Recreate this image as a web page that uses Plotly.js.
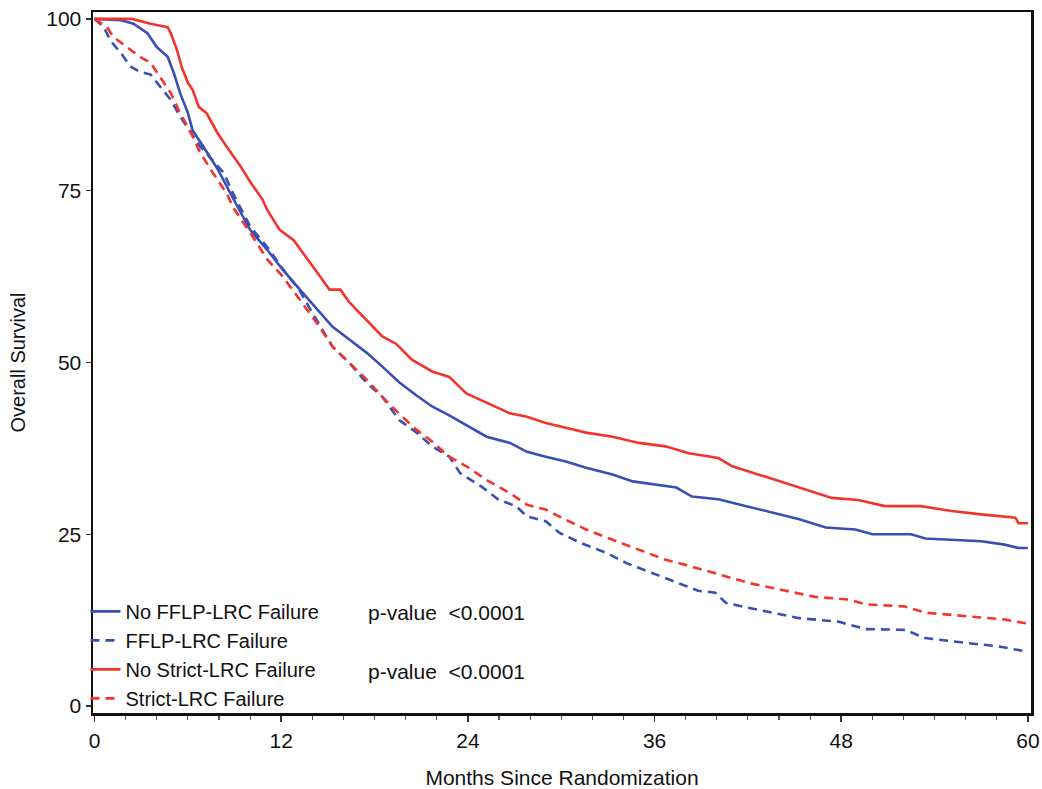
<!DOCTYPE html>
<html>
<head>
<meta charset="utf-8">
<script src="https://cdn.plot.ly/plotly-3.0.1.min.js"></script>
<style>html,body{margin:0;padding:0;background:#fff;}#chart{width:1042px;height:789px;}</style>
</head>
<body>
<div id="chart"></div>
<script>
// Series names
const seriesNames = ["No FFLP-LRC Failure", "FFLP-LRC Failure", "No Strict-LRC Failure", "Strict-LRC Failure"];

// No FFLP-LRC Failure (blue solid)
const noFflpMonths = [0, 1.7, 2.5, 3.4, 4.0, 4.7, 5.1, 5.5, 6.0, 6.3, 7.0, 7.9, 8.9, 10.0, 11.1, 12.1, 13.2, 14.3, 15.3, 16.4, 17.5, 18.5, 19.6, 20.7, 21.7, 22.8, 23.9, 25.2, 26.7, 27.8, 29.0, 30.3, 31.6, 33.3, 34.6, 36.3, 37.4, 38.4, 40.1, 41.9, 43.1, 45.3, 47.0, 48.9, 50.0, 52.5, 53.4, 57.0, 58.5, 59.4, 60];
const noFflpSurv = [100, 99.8, 99.3, 97.9, 95.9, 94.5, 92.1, 89.2, 86.3, 83.8, 81.4, 78.2, 73.9, 69.3, 66.4, 63.5, 60.6, 57.7, 55.2, 53.3, 51.4, 49.4, 47.1, 45.2, 43.6, 42.3, 40.9, 39.2, 38.3, 37.0, 36.3, 35.6, 34.7, 33.7, 32.7, 32.2, 31.8, 30.5, 30.1, 29.1, 28.4, 27.2, 26.0, 25.7, 25.0, 25.0, 24.4, 24.0, 23.5, 23.0, 23.0];

// FFLP-LRC Failure (blue dashed)
const fflpMonths = [0, 0.6, 1.0, 1.7, 2.3, 2.9, 3.6, 4.2, 4.9, 5.5, 6.2, 6.8, 7.4, 8.3, 8.9, 10.0, 11.1, 12.1, 13.2, 13.8, 15.3, 16.4, 17.5, 18.5, 19.6, 20.7, 21.7, 22.8, 23.5, 24.9, 26.0, 27.1, 27.8, 29.0, 29.9, 31.2, 32.9, 34.2, 35.8, 37.6, 38.8, 39.9, 40.6, 42.7, 45.3, 47.8, 49.6, 52.1, 53.4, 56.0, 58.1, 60];
const fflpSurv = [100, 98.8, 96.9, 95.0, 93.1, 92.3, 91.9, 90.2, 88.2, 85.8, 83.4, 81.4, 79.9, 77.6, 74.6, 69.8, 66.8, 63.6, 60.4, 58.0, 52.3, 49.9, 47.0, 45.0, 41.6, 39.8, 37.8, 36.3, 33.9, 31.9, 30.0, 29.1, 27.6, 26.9, 25.2, 23.8, 22.3, 20.8, 19.4, 17.9, 16.8, 16.5, 15.0, 14.0, 12.8, 12.3, 11.2, 11.1, 9.9, 9.2, 8.7, 7.9];

// No Strict-LRC Failure (red solid)
const noStrictMonths = [0, 2.4, 3.6, 4.7, 4.9, 5.3, 5.6, 6.0, 6.3, 6.7, 7.2, 7.9, 8.5, 9.4, 10.0, 10.8, 11.1, 11.9, 12.8, 13.7, 14.5, 15.1, 15.8, 16.4, 17.5, 18.5, 19.4, 20.4, 21.7, 22.8, 23.9, 25.2, 26.7, 27.8, 29.0, 30.3, 31.6, 33.3, 35.0, 36.7, 38.2, 40.1, 41.0, 43.1, 45.3, 47.4, 49.1, 50.8, 53.1, 55.1, 57.0, 59.2, 59.4, 60];
const noStrictSurv = [100, 100, 99.3, 98.8, 97.9, 95.5, 93.0, 90.7, 89.7, 87.2, 86.3, 83.4, 81.4, 78.5, 76.3, 73.7, 72.2, 69.3, 67.8, 64.9, 62.5, 60.6, 60.6, 58.7, 56.2, 53.8, 52.7, 50.4, 48.7, 47.9, 45.5, 44.1, 42.6, 42.1, 41.2, 40.5, 39.8, 39.2, 38.3, 37.8, 36.8, 36.1, 34.9, 33.4, 31.8, 30.3, 30.0, 29.1, 29.1, 28.4, 27.9, 27.4, 26.6, 26.6];

// Strict-LRC Failure (red dashed)
const strictMonths = [0, 0.8, 1.2, 2.1, 2.9, 3.6, 4.2, 4.9, 5.5, 6.2, 6.8, 7.6, 8.5, 8.9, 10.0, 11.1, 12.1, 13.2, 14.3, 15.3, 16.4, 17.5, 18.5, 19.6, 20.7, 21.7, 22.8, 23.9, 25.2, 26.7, 27.8, 29.0, 30.3, 31.6, 33.3, 35.0, 36.7, 38.4, 40.1, 42.1, 44.2, 46.3, 48.5, 49.6, 52.1, 53.4, 57.0, 58.5, 60];
const strictSurv = [100, 98.8, 97.4, 95.9, 94.5, 93.6, 91.6, 89.2, 86.3, 83.4, 80.5, 77.6, 74.6, 72.6, 68.9, 65.0, 62.5, 59.1, 55.7, 52.3, 49.9, 47.5, 45.0, 42.5, 40.2, 38.5, 36.3, 34.9, 32.9, 31.0, 29.3, 28.6, 27.1, 25.7, 24.2, 22.8, 21.3, 20.3, 19.2, 17.9, 16.9, 15.9, 15.5, 14.8, 14.5, 13.6, 12.9, 12.6, 12.0];

const xTicks = [0, 12, 24, 36, 48, 60];
const yTicks = [0, 25, 50, 75, 100];
const pValueText = "p-value  &lt;0.0001";

const BLUE = "#3a4fb3";
const RED = "#f2352c";
const FONT = "Arial, 'Liberation Sans', sans-serif";

const traces = [
  {x: noFflpMonths, y: noFflpSurv, name: seriesNames[0], mode: "lines", line: {color: BLUE, width: 2.6}},
  {x: fflpMonths, y: fflpSurv, name: seriesNames[1], mode: "lines", line: {color: BLUE, width: 2.6, dash: "9px,6px"}},
  {x: noStrictMonths, y: noStrictSurv, name: seriesNames[2], mode: "lines", line: {color: RED, width: 2.6}},
  {x: strictMonths, y: strictSurv, name: seriesNames[3], mode: "lines", line: {color: RED, width: 2.6, dash: "9px,6px"}}
];

const layout = {
  width: 1042, height: 789,
  margin: {l: 93, r: 11, t: 12, b: 76},
  paper_bgcolor: "#fff", plot_bgcolor: "#fff",
  font: {family: FONT, color: "#111", size: 20},
  showlegend: true,
  legend: {x: -0.008, y: -0.007, xanchor: "left", yanchor: "bottom", bgcolor: "rgba(0,0,0,0)",
           font: {family: FONT, size: 20, color: "#111"}, tracegroupgap: 0, itemwidth: 30},
  xaxis: {
    range: [-0.1, 60.2], tickvals: xTicks, ticktext: xTicks.map(String),
    ticks: "outside", ticklen: 6, tickwidth: 1.5, tickcolor: "#333",
    minor: {dtick: 2, tick0: 0, ticks: "outside", ticklen: 4, tickwidth: 1.2, tickcolor: "#555"},
    showline: true, mirror: true, linecolor: "#111", linewidth: 2.5,
    showgrid: false, zeroline: false,
    tickfont: {family: FONT, size: 21, color: "#111"}, ticklabelstandoff: 1,
    title: {text: "Months Since Randomization", font: {family: FONT, size: 21, color: "#111"}, standoff: 20}
  },
  yaxis: {
    range: [-1, 101], tickvals: yTicks, ticktext: yTicks.map(String),
    ticks: "outside", ticklen: 5, tickwidth: 1.5, tickcolor: "#333",
    showline: true, mirror: true, linecolor: "#111", linewidth: 2.5,
    showgrid: false, zeroline: false,
    tickfont: {family: FONT, size: 21, color: "#111"},
    title: {text: "Overall Survival", font: {family: FONT, size: 20, color: "#111"}, standoff: 16}
  },
  annotations: [
    {xref: "paper", yref: "paper", x: 0.291, y: 0.1427, xanchor: "left", yanchor: "middle", showarrow: false,
     text: pValueText, font: {family: FONT, size: 21, color: "#111"}},
    {xref: "paper", yref: "paper", x: 0.291, y: 0.0599, xanchor: "left", yanchor: "middle", showarrow: false,
     text: pValueText, font: {family: FONT, size: 21, color: "#111"}}
  ]
};

Plotly.newPlot("chart", traces, layout, {displayModeBar: false, staticPlot: true});
</script>
</body>
</html>
